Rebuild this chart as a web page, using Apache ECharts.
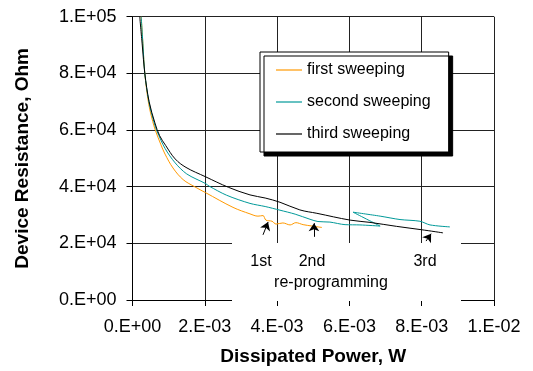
<!DOCTYPE html>
<html>
<head>
<meta charset="utf-8">
<script src="https://cdn.jsdelivr.net/npm/echarts@6/dist/echarts.min.js"></script>
<style>
  html, body { margin: 0; padding: 0; background: #fff; }
  #main { width: 533px; height: 371px; }
</style>
</head>
<body>
<div id="main"></div>
<script>
"use strict";

// dissipated power (W) and device resistance (Ohm)
var firstPower = [0.24e-3, 0.29e-3, 0.34e-3, 0.45e-3, 0.56e-3, 0.63e-3, 0.78e-3, 0.90e-3, 1.12e-3, 1.40e-3, 1.73e-3, 2.02e-3, 2.78e-3, 3.25e-3, 3.47e-3, 3.61e-3, 3.69e-3, 3.86e-3, 3.97e-3, 4.16e-3, 4.36e-3, 4.52e-3, 4.72e-3, 4.97e-3, 5.24e-3];
var firstRes = [100e3, 90e3, 80e3, 69e3, 63e3, 60e3, 55e3, 51.5e3, 46.6e3, 42.5e3, 39.9e3, 37.9e3, 32.7e3, 30.4e3, 29.6e3, 29.8e3, 28.2e3, 27.8e3, 26.8e3, 27.2e3, 26.5e3, 27.3e3, 26.6e3, 26.1e3, 25.6e3];

var secondPower = [0.24e-3, 0.29e-3, 0.34e-3, 0.46e-3, 0.60e-3, 0.68e-3, 0.90e-3, 1.18e-3, 1.50e-3, 2.02e-3, 2.12e-3, 2.60e-3, 3.25e-3, 3.67e-3, 4.08e-3, 4.50e-3, 4.91e-3, 5.13e-3, 5.46e-3, 5.88e-3, 6.29e-3, 6.85e-3, 6.10e-3, 6.85e-3, 7.40e-3, 7.95e-3, 8.23e-3, 8.78e-3];
var secondRes = [100e3, 90e3, 80e3, 69.5e3, 62.5e3, 59.5e3, 53.5e3, 48.4e3, 44.5e3, 41.1e3, 40.2e3, 37.0e3, 34.1e3, 33.0e3, 31.7e3, 30.3e3, 28.5e3, 27.7e3, 27.5e3, 26.6e3, 26.5e3, 26.1e3, 31.0e3, 29.6e3, 28.4e3, 27.8e3, 26.5e3, 25.8e3];

var thirdPower = [0.20e-3, 0.27e-3, 0.34e-3, 0.46e-3, 0.62e-3, 0.75e-3, 0.92e-3, 1.18e-3, 1.48e-3, 2.02e-3, 2.65e-3, 3.25e-3, 3.67e-3, 4.08e-3, 4.63e-3, 5.10e-3, 6.02e-3, 6.57e-3, 7.30e-3, 8.00e-3, 8.59e-3];
var thirdRes = [100e3, 90e3, 80e3, 70e3, 62.5e3, 58e3, 54.5e3, 49.8e3, 46.8e3, 43.5e3, 39.8e3, 37.1e3, 36.0e3, 34.5e3, 31.8e3, 30.6e3, 28.2e3, 27.4e3, 26.0e3, 24.8e3, 23.7e3];

// re-programming arrows: [tailP, tailR, tipP, tipR]
var arrows = [
  [3.61e-3, 23.0e3, 3.75e-3, 27.5e3],
  [5.02e-3, 22.3e3, 5.02e-3, 27.1e3],
  [8.12e-3, 20.8e3, 8.26e-3, 23.4e3]
];

var seriesNames = ["first sweeping", "second sweeping", "third sweeping"];
var seriesColors = ["#ff9900", "#009999", "#000000"];

function zip(xs, ys) {
  return xs.map(function (x, i) { return [x, ys[i]]; });
}

function sci(v) {
  if (Math.abs(v) < 1e-12) return "0.E+00";
  var e = Math.floor(Math.log10(v));
  var m = Math.round(v / Math.pow(10, e));
  if (m >= 10) { m = m / 10; e += 1; }
  var sign = e < 0 ? "-" : "+";
  var a = Math.abs(e);
  return m + ".E" + sign + (a < 10 ? "0" + a : a);
}

var font = "'Liberation Sans', Arial, sans-serif";

var myChart = echarts.init(document.getElementById("main"));

var option = {
  animation: false,
  backgroundColor: "#fff",
  grid: { left: 132.5, right: 39, top: 16.7, bottom: 67, containLabel: false },
  legend: {
    left: 260, top: 52,
    orient: "vertical",
    data: seriesNames,
    icon: "rect",
    itemWidth: 26, itemHeight: 1.2,
    itemGap: 16,
    padding: [10, 18, 10, 16],
    backgroundColor: "#fff",
    borderColor: "#000", borderWidth: 1,
    shadowColor: "#000", shadowOffsetX: 4, shadowOffsetY: 4, shadowBlur: 0,
    textStyle: { fontFamily: font, fontSize: 16, color: "#000" }
  },
  xAxis: {
    type: "value", min: 0, max: 0.01, interval: 0.002,
    name: "Dissipated Power, W", nameLocation: "middle", nameGap: 47,
    nameTextStyle: { fontFamily: font, fontSize: 19, fontWeight: "bold", color: "#000" },
    axisLine: { lineStyle: { color: "#000", width: 1 } },
    axisTick: { show: true, length: 6, lineStyle: { color: "#000" } },
    axisLabel: { formatter: sci, fontFamily: font, fontSize: 18, color: "#000", margin: 18 },
    splitLine: { show: true, lineStyle: { color: "#222", width: 1 } }
  },
  yAxis: {
    type: "value", min: 0, max: 1e5, interval: 2e4,
    name: "Device Resistance, Ohm", nameLocation: "middle", nameGap: 100,
    nameTextStyle: { fontFamily: font, fontSize: 19, fontWeight: "bold", color: "#000" },
    axisLine: { show: true, lineStyle: { color: "#000", width: 1 } },
    axisTick: { show: true, length: 6, lineStyle: { color: "#000" } },
    axisLabel: { formatter: sci, fontFamily: font, fontSize: 18, color: "#000", margin: 16 },
    splitLine: { show: true, lineStyle: { color: "#222", width: 1 } }
  },
  graphic: [
    { type: "rect", z: 1, shape: { x: 232, y: 243, width: 229, height: 58 }, style: { fill: "#fff" }, silent: true },
    { type: "text", z: 5, x: 261, y: 262, style: { text: "1st", font: "16px " + font, fill: "#000", align: "center", verticalAlign: "middle" } },
    { type: "text", z: 5, x: 312, y: 262, style: { text: "2nd", font: "16px " + font, fill: "#000", align: "center", verticalAlign: "middle" } },
    { type: "text", z: 5, x: 425, y: 262, style: { text: "3rd", font: "16px " + font, fill: "#000", align: "center", verticalAlign: "middle" } },
    { type: "text", z: 5, x: 331, y: 283, style: { text: "re-programming", font: "16px " + font, fill: "#000", align: "center", verticalAlign: "middle" } }
  ],
  series: [
    {
      name: seriesNames[0], type: "line", showSymbol: false, symbol: "none",
      data: zip(firstPower, firstRes),
      lineStyle: { color: seriesColors[0], width: 1 }, itemStyle: { color: seriesColors[0] },
      smooth: 0.35, clip: true, z: 3
    },
    {
      name: seriesNames[1], type: "line", showSymbol: false, symbol: "none",
      data: zip(secondPower, secondRes),
      lineStyle: { color: seriesColors[1], width: 1 }, itemStyle: { color: seriesColors[1] },
      smooth: 0.3, clip: true, z: 3
    },
    {
      name: seriesNames[2], type: "line", showSymbol: false, symbol: "none",
      data: zip(thirdPower, thirdRes),
      lineStyle: { color: seriesColors[2], width: 1 }, itemStyle: { color: seriesColors[2] },
      smooth: 0.35, clip: true, z: 3,
      markLine: {
        silent: true,
        symbol: ["none", "arrow"],
        symbolSize: 8,
        label: { show: false },
        lineStyle: { color: "#000", width: 1, type: "solid" },
        emphasis: { disabled: true },
        data: arrows.map(function (a) {
          return [{ coord: [a[0], a[1]] }, { coord: [a[2], a[3]] }];
        })
      }
    }
  ]
};

option && myChart.setOption(option);
</script>
</body>
</html>
